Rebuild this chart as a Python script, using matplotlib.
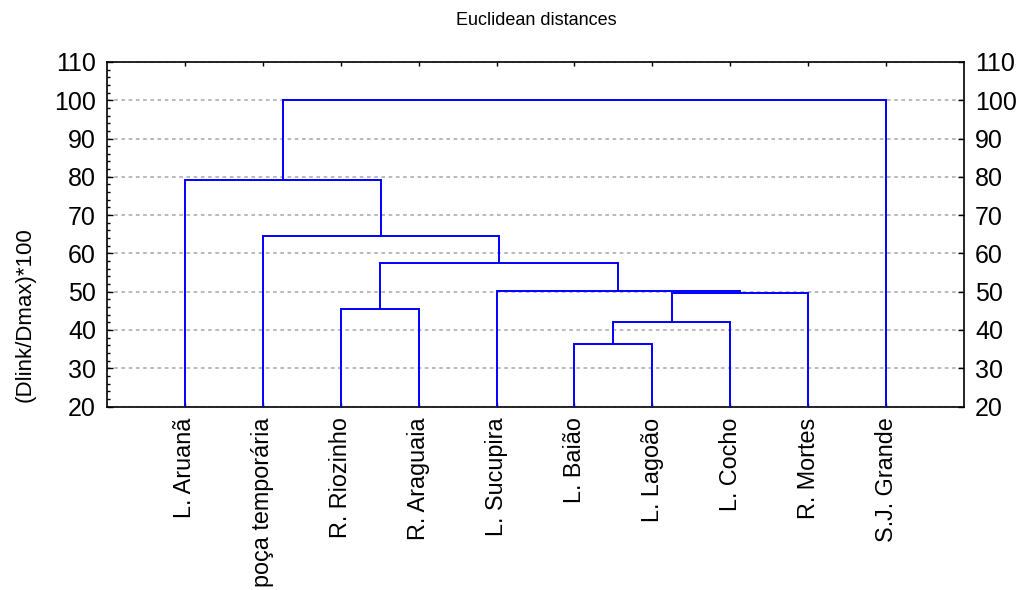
import matplotlib.pyplot as plt
from matplotlib.ticker import MultipleLocator

plt.rcParams['font.family'] = ['Liberation Sans', 'DejaVu Sans']

# Leaves in dendrogram order
leaves = ['L. Aruanã', 'poça temporária', 'R. Riozinho', 'R. Araguaia', 'L. Sucupira',
          'L. Baião', 'L. Lagoão', 'L. Cocho', 'R. Mortes', 'S.J. Grande']

# Merges: (left member, right member, linkage distance); members are leaf names or merge ids "m0", "m1", ...
merge_left = ['L. Baião', 'm0', 'm1', 'L. Sucupira', 'R. Riozinho', 'm4', 'poça temporária', 'L. Aruanã', 'm7']
merge_right = ['L. Lagoão', 'L. Cocho', 'R. Mortes', 'm2', 'R. Araguaia', 'm3', 'm5', 'm6', 'S.J. Grande']
merge_height = [36.3, 42.2, 49.7, 50.2, 45.6, 57.4, 64.6, 79.1, 100.0]

base = 20
line_color = '#0000ff'

fig = plt.figure(figsize=(10.19, 5.90), dpi=100)
ax = fig.add_axes([0.105, 0.311, 0.841, 0.584])

# position of each node: leaves at 1..n, clusters at the mean of their two members
pos = {name: (i + 1, base) for i, name in enumerate(leaves)}
for k, (a, b, h) in enumerate(zip(merge_left, merge_right, merge_height)):
    xa, ya = pos[a]
    xb, yb = pos[b]
    ax.plot([xa, xa, xb, xb], [ya, h, h, yb], color=line_color, linewidth=1.4,
            solid_joinstyle='miter', zorder=3)
    pos['m%d' % k] = ((xa + xb) / 2, h)

ax.set_xlim(0, len(leaves) + 1)
ax.set_ylim(20, 110)
ax.set_xticks(range(1, len(leaves) + 1))
ax.set_xticklabels(leaves, rotation=90, fontsize=16.8, va='top')
ax.yaxis.set_major_locator(MultipleLocator(10))
ax.yaxis.set_minor_locator(MultipleLocator(2))
ax.tick_params(axis='y', which='major', direction='in', length=4, width=1,
               labelsize=18, pad=8, right=True, labelright=True)
ax.tick_params(axis='y', which='minor', direction='in', length=2.5, width=1, right=False)
ax.tick_params(axis='x', direction='in', length=3, width=1, top=True, pad=8)
ax.grid(True, axis='y', which='major', color='#b4b4b4', linestyle=(0, (2, 2)), linewidth=1.3, zorder=0)
for sp in ax.spines.values():
    sp.set_linewidth(1.2)

fig.text(0.526, 0.965, 'Euclidean distances', ha='center', va='center', fontsize=13)
fig.text(0.025, 0.466, '(Dlink/Dmax)*100', rotation=90, ha='center', va='center', fontsize=16)

fig.savefig('out.png', dpi=100)
